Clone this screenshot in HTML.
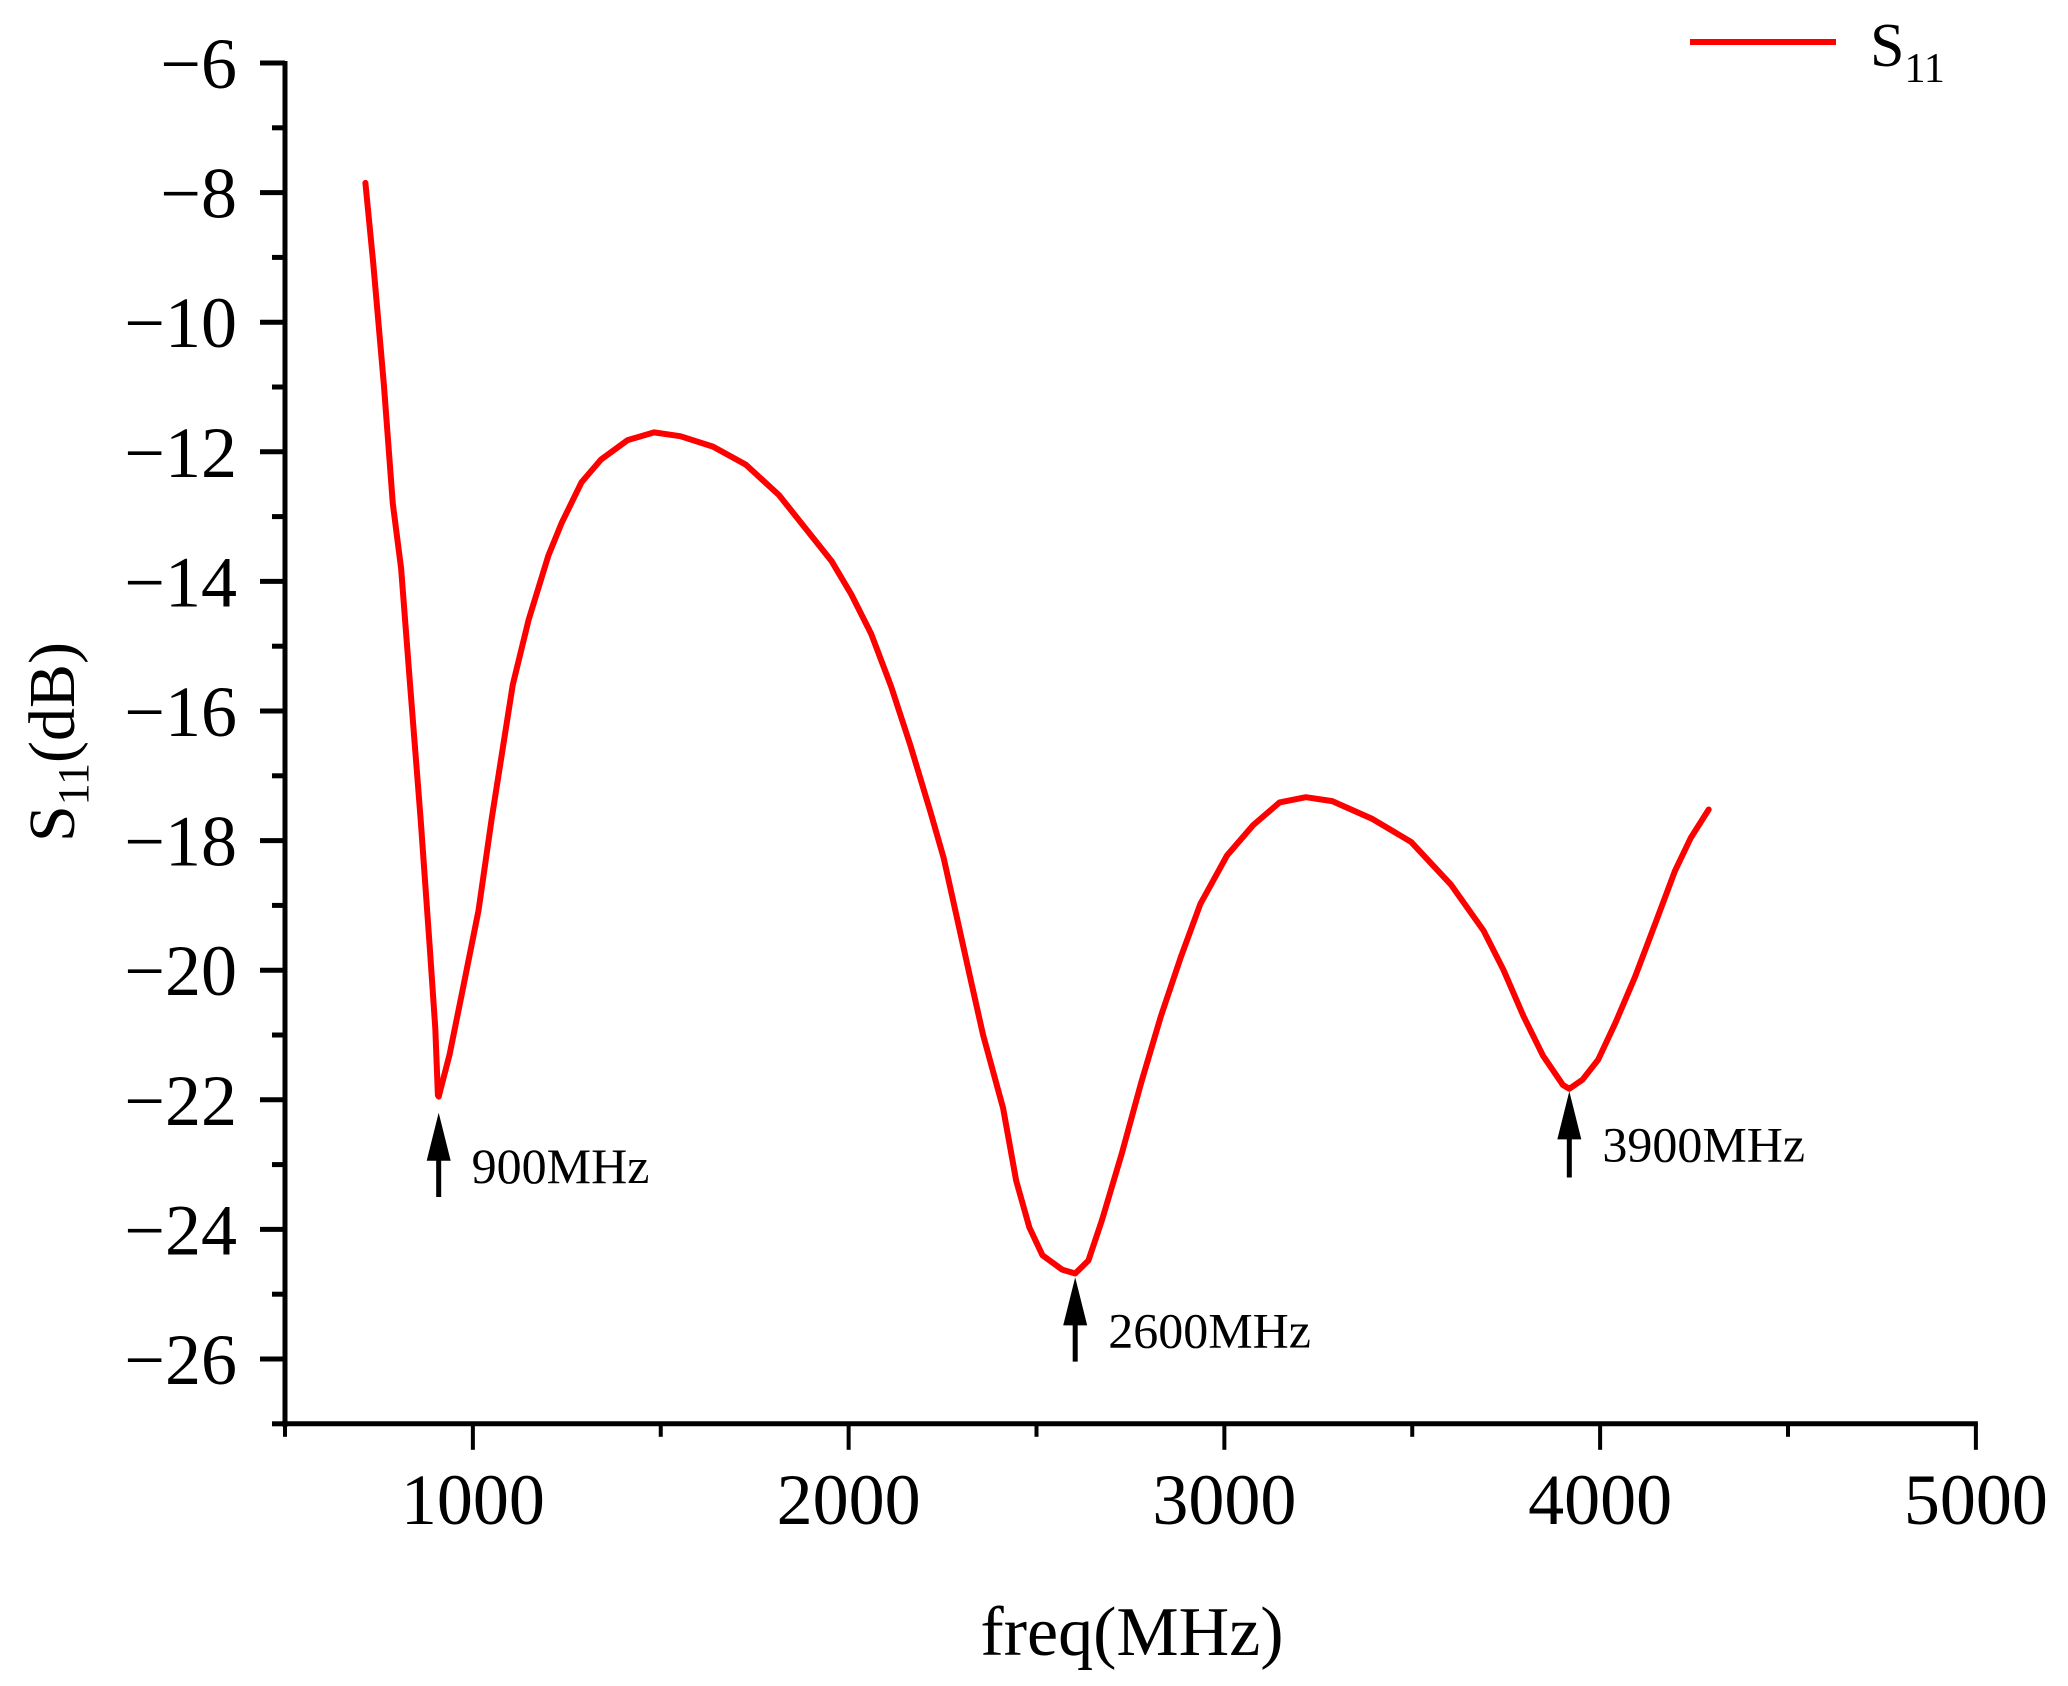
<!DOCTYPE html>
<html><head><meta charset="utf-8"><style>
html,body{margin:0;padding:0;background:#fff;}
svg{display:block;font-family:"Liberation Serif","Times New Roman",serif;}
</style></head><body>
<svg id="chart" width="2068" height="1686" viewBox="0 0 2068 1686">
<g id="axes"></g>
<g id="series"></g>
<g id="annot"></g>
<text x="1132" y="1655" font-size="70" text-anchor="middle">freq(MHz)</text>
<text transform="translate(74,742) rotate(-90)" font-size="66" text-anchor="middle">S<tspan font-size="44" dy="14">11</tspan><tspan dy="-14">(dB)</tspan></text>
<g>
<line x1="1690" y1="42" x2="1836" y2="42" stroke="#ff0000" stroke-width="6"/>
<text x="1870" y="66" font-size="62">S<tspan font-size="42" dy="16">11</tspan></text>
</g>
</svg>
<script>
const freqs=[714,735,763,787,809,833,861,886,900,907,909,938,973,1015,1050,1106,1148,1201,1236,1289,1341,1412,1482,1552,1639,1727,1815,1885,1955,2007,2060,2113,2165,2218,2253,2288,2323,2358,2411,2446,2481,2516,2568,2603,2638,2674,2726,2779,2831,2884,2936,3007,3077,3147,3217,3287,3392,3497,3603,3690,3743,3796,3848,3901,3918,3953,3995,4041,4093,4146,4199,4241,4289];
const s11=[-7.85,-9.1,-10.95,-12.8,-13.8,-15.6,-17.66,-19.7,-20.9,-21.93,-21.95,-21.3,-20.3,-19.08,-17.66,-15.6,-14.6,-13.6,-13.1,-12.47,-12.12,-11.82,-11.7,-11.76,-11.92,-12.2,-12.67,-13.18,-13.69,-14.2,-14.81,-15.62,-16.54,-17.56,-18.27,-19.18,-20.1,-21.0,-22.13,-23.25,-23.97,-24.4,-24.62,-24.68,-24.48,-23.86,-22.85,-21.73,-20.71,-19.8,-18.98,-18.23,-17.76,-17.41,-17.33,-17.39,-17.66,-18.02,-18.68,-19.39,-20.0,-20.71,-21.32,-21.77,-21.83,-21.69,-21.38,-20.81,-20.1,-19.29,-18.47,-17.96,-17.52];
const xTicks=[1000,2000,3000,4000,5000];
const xMinor=[500,1500,2500,3500,4500];
const yTicks=[-6,-8,-10,-12,-14,-16,-18,-20,-22,-24,-26];
const yMinor=[-7,-9,-11,-13,-15,-17,-19,-21,-23,-25,-27];
const markFreqs=[909,2603,3918];
const markTips=[-22.2,-24.74,-21.87];
const markTails=[-23.5,-26.04,-23.2];
const markLabels=["900MHz","2600MHz","3900MHz"];

const X=f=>285+(f-500)*0.37575;
const Y=v=>63+(-6-v)*64.8;
const NS="http://www.w3.org/2000/svg";
function mk(tag,attrs,parent){const e=document.createElementNS(NS,tag);for(const k in attrs)e.setAttribute(k,attrs[k]);parent.appendChild(e);return e;}
const axes=document.getElementById('axes');
let e;
e=mk('line',{x1:X(500),y1:Y(-6)-2,x2:X(500),y2:Y(-27)+3,stroke:'#000','stroke-width':5},axes);


e=mk('line',{x1:X(500)-3,y1:Y(-27),x2:X(5000)+2,y2:Y(-27),stroke:'#000','stroke-width':5},axes);


xTicks.forEach(t=>{
 e=mk('line',{x1:X(t),y1:Y(-27),x2:X(t),y2:Y(-27)+26,stroke:'#000','stroke-width':4},axes);
 
 
 e=mk('text',{x:X(t),y:Y(-27)+100,'font-size':72,'text-anchor':'middle'},axes);
 e.textContent=t;
 
 
});
xMinor.forEach(t=>{
 e=mk('line',{x1:X(t),y1:Y(-27),x2:X(t),y2:Y(-27)+13,stroke:'#000','stroke-width':4},axes);
 
 
});
yTicks.forEach(t=>{
 e=mk('line',{x1:X(500),y1:Y(t),x2:X(500)-25,y2:Y(t),stroke:'#000','stroke-width':5},axes);
 
 
 e=mk('text',{x:X(500)-48,y:Y(t)+25,'font-size':72,'text-anchor':'end'},axes);
 e.textContent='\u2212'+Math.abs(t);
 
 
});
yMinor.forEach(t=>{
 e=mk('line',{x1:X(500),y1:Y(t),x2:X(500)-13,y2:Y(t),stroke:'#000','stroke-width':5},axes);
 
 
});
const series=document.getElementById('series');
const d=freqs.map((f,i)=>(i?'L':'M')+X(f).toFixed(1)+' '+Y(s11[i]).toFixed(1)).join(' ');
e=mk('path',{d:d,fill:'none',stroke:'#ff0000','stroke-width':6,'stroke-linejoin':'round','stroke-linecap':'round'},series);


const annot=document.getElementById('annot');
markFreqs.forEach((f,i)=>{
 const x=X(f),yt=Y(markTips[i]),yb=Y(markTails[i]);
 e=mk('line',{x1:x,y1:yt+30,x2:x,y2:yb,stroke:'#000','stroke-width':5},annot);
 
 
 e=mk('polygon',{points:`${x},${yt} ${x-12},${yt+48} ${x+12},${yt+48}`,fill:'#000'},annot);
 
 
 e=mk('text',{x:x+33,y:yt+70,'font-size':50},annot);
 e.textContent=markLabels[i];
 
 
});
</script>
</body></html>
